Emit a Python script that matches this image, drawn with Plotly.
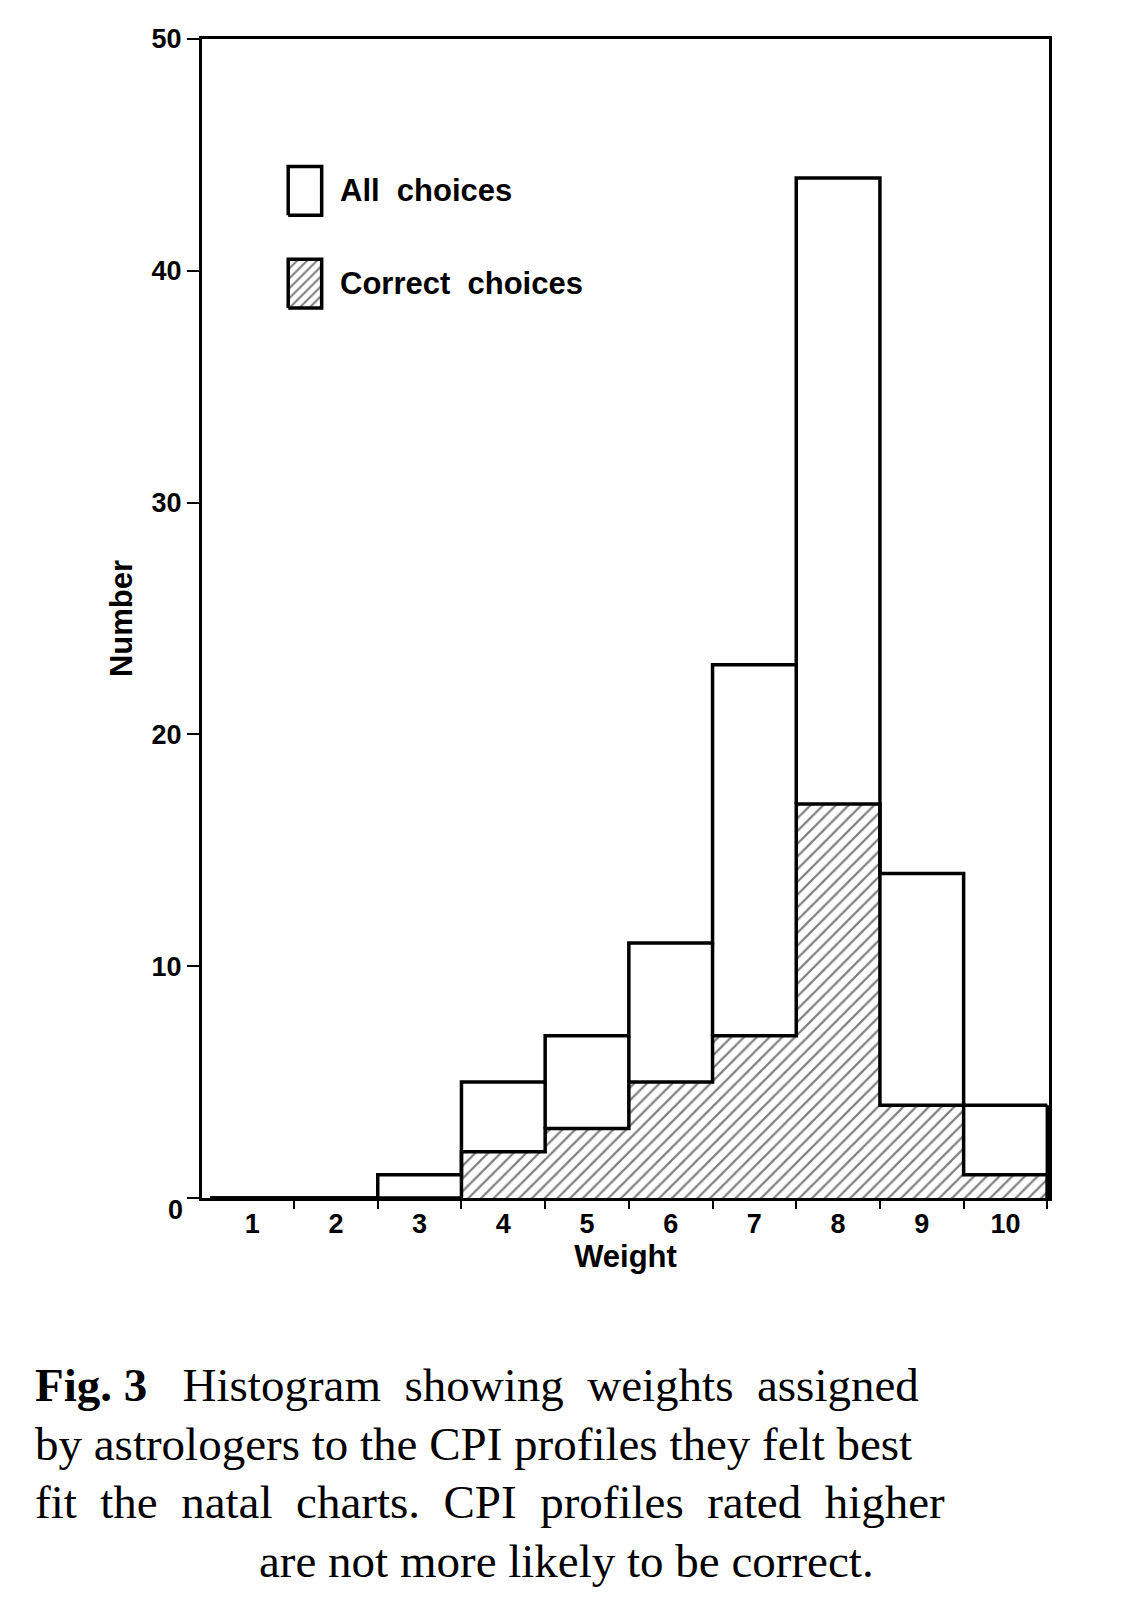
import plotly.graph_objects as go

weights = [1, 2, 3, 4, 5, 6, 7, 8, 9, 10]
all_choices = [0, 0, 1, 5, 7, 11, 23, 44, 14, 4]
correct_choices = [0, 0, 0, 2, 3, 5, 7, 17, 4, 1]
y_ticks = [10, 20, 30, 40, 50]

edges = [w - 0.5 for w in weights] + [weights[-1] + 0.5]

fig = go.Figure()

# correct choices: hatched fill
fig.add_trace(go.Bar(x=weights, y=correct_choices, width=1,
                     marker=dict(color='white', line=dict(width=0),
                                 pattern=dict(shape='/', fgcolor='black', size=9, solidity=0.25))))

# step outlines
for vals in (all_choices, correct_choices):
    fig.add_trace(go.Scatter(x=[edges[0]] + edges, y=[0] + vals + [vals[-1]],
                             mode='lines', line=dict(color='black', width=3.5, shape='hv'),
                             hoverinfo='skip'))
    # closing vertical line at right edge
    fig.add_trace(go.Scatter(x=[edges[-1], edges[-1]], y=[vals[-1], 0], mode='lines',
                             line=dict(color='black', width=3.5), hoverinfo='skip'))
# vertical drops where a bar meets a lower neighbour
for i in range(len(weights) - 1):
    lo = min(all_choices[i], all_choices[i + 1])
    hi = max(correct_choices[i], correct_choices[i + 1])
    if lo > hi:
        fig.add_trace(go.Scatter(x=[edges[i + 1]] * 2, y=[hi, lo], mode='lines',
                                 line=dict(color='black', width=3.5), hoverinfo='skip'))

# legend keys drawn by hand
fig.add_trace(go.Scatter(x=[1.43, 1.83, 1.83, 1.43, 1.43], y=[42.4, 42.4, 44.5, 44.5, 42.4],
                         mode='lines', fill='toself', fillcolor='white',
                         line=dict(color='black', width=3.5), hoverinfo='skip'))
fig.add_trace(go.Scatter(x=[1.43, 1.83, 1.83, 1.43, 1.43], y=[38.4, 38.4, 40.5, 40.5, 38.4],
                         mode='lines', fill='toself', fillcolor='white',
                         fillpattern=dict(shape='/', fgcolor='black', size=7, solidity=0.3),
                         line=dict(color='black', width=3.5), hoverinfo='skip'))

tickfont = dict(family='Liberation Sans', size=27, color='black', weight='bold')
labfont = dict(family='Liberation Sans', size=31, color='black', weight='bold')
fig.add_annotation(x=2.02, y=43.45, text='All  choices', showarrow=False, xanchor='left', font=labfont)
fig.add_annotation(x=2.02, y=39.45, text='Correct  choices', showarrow=False, xanchor='left', font=labfont)
fig.add_annotation(xref='paper', yref='paper', x=-0.042, y=-0.025, text='0',
                   showarrow=False, font=tickfont)

fig.update_layout(
    barmode='overlay', bargap=0, showlegend=False,
    width=1134, height=1600, paper_bgcolor='white', plot_bgcolor='white',
    margin=dict(l=194, r=93, t=31, b=410),
    xaxis=dict(range=[0.4, 10.52], tickvals=weights, ticks='', showgrid=False,
               showline=True, mirror=True, linecolor='black', linewidth=3,
               tickfont=tickfont, zeroline=False,
               minor=dict(tickvals=[w + 0.5 for w in weights], ticks='outside',
                          ticklen=8, tickwidth=2, tickcolor='black'),
               title=dict(text='Weight', font=labfont, standoff=0)),
    yaxis=dict(range=[0, 50], tickvals=[0] + y_ticks, ticktext=[''] + [str(t) for t in y_ticks],
               ticks='outside', ticklen=12, tickwidth=2, tickcolor='black',
               showgrid=False, zeroline=False, showline=True, mirror=True,
               linecolor='black', linewidth=3, tickfont=tickfont,
               title=dict(text='Number', font=labfont, standoff=10)),
)

caption = ['<b>Fig. 3</b>   Histogram  showing  weights  assigned',
           'by astrologers to the CPI profiles they felt best',
           'fit  the  natal  charts.  CPI  profiles  rated  higher',
           'are not more likely to be correct.']
ys = [1377, 1436, 1494, 1553]
for i, (line, py) in enumerate(zip(caption, ys)):
    last = i == len(caption) - 1
    fig.add_annotation(xref='paper', yref='paper',
                       x=0.43 if last else -0.2, xanchor='center' if last else 'left',
                       y=(1190 - py) / 1159, yanchor='middle', showarrow=False, text=line,
                       font=dict(family='Liberation Serif', size=47, color='black'))

fig.write_html('out.html')
